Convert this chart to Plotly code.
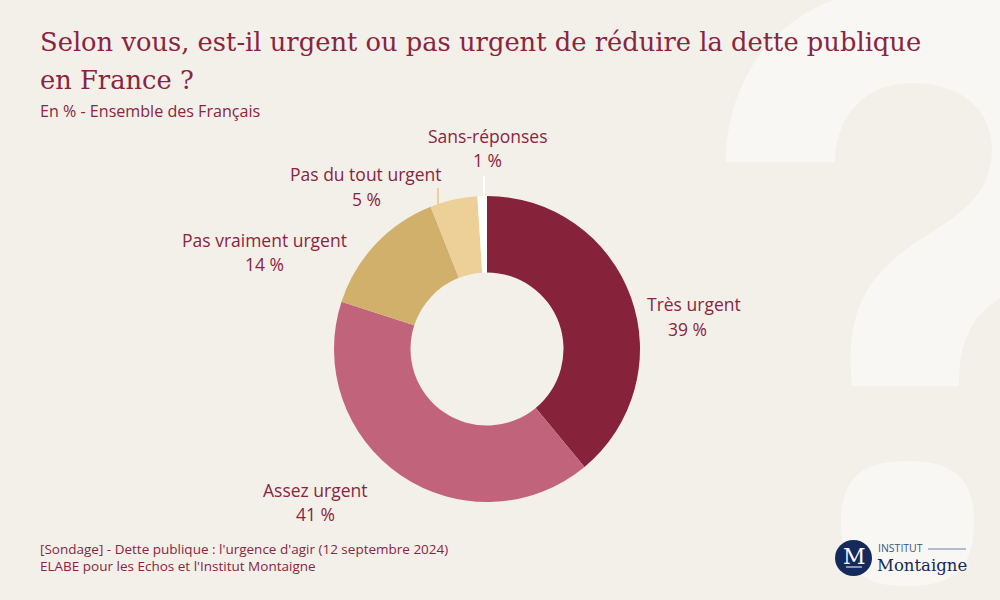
import plotly.graph_objects as go

W, H = 1000, 600

# survey results
categories = ["Très urgent", "Assez urgent", "Pas vraiment urgent", "Pas du tout urgent", "Sans-réponses"]
values = [39, 41, 14, 5, 1]
colors = ["#862239", "#c2637c", "#d1b06b", "#edd098", "#ffffff"]

title_lines = [
    "Selon vous, est-il urgent ou pas urgent de réduire la dette publique",
    "en France ?",
]
subtitle = "En % - Ensemble des Français"
source_lines = [
    "[Sondage] - Dette publique : l'urgence d'agir (12 septembre 2024)",
    "ELABE pour les Echos et l'Institut Montaigne",
]

BG = "#f3f0ea"
PALE = "#f8f7f3"
WINE = "#8a2540"
NAVY = "#14295c"
SANS = "Open Sans"
SERIF = "DejaVu Serif"


def px(x):
    return x / W


def py(y):
    return 1 - y / H


def path(cmds):
    # pixel coordinates to paper coordinates for svg paths
    out = []
    for c in cmds:
        out.append(c[0] + " ".join(f"{px(c[i]):.4f},{py(c[i + 1]):.4f}" for i in range(1, len(c), 2)))
    return " ".join(out) + " Z"


def text(x, y, s, size, color=WINE, family=SANS, anchor="left"):
    return dict(x=px(x), y=py(y), xref="paper", yref="paper", text=s, showarrow=False,
                xanchor=anchor, yanchor="middle", align=anchor, borderpad=0, borderwidth=0,
                font=dict(family=family, size=size, color=color))


fig = go.Figure(go.Pie(
    labels=categories,
    values=values,
    hole=0.5,
    sort=False,
    direction="clockwise",
    rotation=0,
    textinfo="none",
    marker=dict(colors=colors, line=dict(width=0)),
    domain=dict(x=[px(334), px(640)], y=[py(502), py(196)]),
    showlegend=False,
))

# big pale question mark behind everything
hook = path([
    ("M", 726, 162),
    ("C", 726, 90, 765, 25, 833, 0),
    ("L", 1000, 0),
    ("L", 1000, 298),
    ("C", 975, 315, 959, 335, 959, 386),
    ("L", 852, 386),
    ("C", 846, 320, 860, 280, 915, 243),
    ("C", 960, 215, 992, 195, 992, 149),
    ("C", 992, 105, 955, 83, 913, 83),
    ("C", 870, 83, 836, 110, 835, 162),
])
dot = path([
    ("M", 841, 523),
    ("C", 841, 475, 865, 461, 907, 461),
    ("C", 950, 461, 974, 475, 974, 523),
    ("C", 974, 572, 950, 586, 907, 586),
    ("C", 865, 586, 841, 572, 841, 523),
])

shapes = [
    dict(type="path", path=hook, xref="paper", yref="paper", fillcolor=PALE, line_width=0, layer="below"),
    dict(type="path", path=dot, xref="paper", yref="paper", fillcolor=PALE, line_width=0, layer="below"),
    # leader lines
    dict(type="line", xref="paper", yref="paper", x0=px(438), x1=px(438), y0=py(188), y1=py(205),
         line=dict(color="#edd098", width=2)),
    dict(type="line", xref="paper", yref="paper", x0=px(484), x1=px(484), y0=py(176), y1=py(197),
         line=dict(color="#ffffff", width=2)),
    # logo
    dict(type="circle", xref="paper", yref="paper", x0=px(835), x1=px(872), y0=py(576), y1=py(540),
         fillcolor=NAVY, line_width=0),
    dict(type="line", xref="paper", yref="paper", x0=px(846), x1=px(862), y0=py(567), y1=py(567),
         line=dict(color="#ffffff", width=1)),
    dict(type="line", xref="paper", yref="paper", x0=px(928), x1=px(966), y0=py(549), y1=py(549),
         line=dict(color="#9aa9c6", width=1.5)),
]

annotations = [
    text(40, 42, title_lines[0], 25.75, family=SERIF),
    text(40, 80, title_lines[1], 25.75, family=SERIF),
    text(40, 111, subtitle, 16.1),
    text(40, 548.5, source_lines[0], 13.5),
    text(40, 566, source_lines[1], 13.5),
    text(854, 556, "M", 22, color="#ffffff", family=SERIF, anchor="center"),
    text(878, 548, "INSTITUT", 10.5, color="#3b5488"),
    text(877, 565, "Montaigne", 16.5, color=NAVY, family=SERIF),
]

# label, percent value on the line under it
label_pos = [(694, 304.5, 687, 328.5), (315, 489.5, 315, 513.5), (264.5, 239.5, 264.5, 263.5),
             (366, 174, 366, 198.5), (487, 135.5, 487, 159.5)]
for name, val, (lx, ly, vx, vy) in zip(categories, values, label_pos):
    annotations.append(text(lx, ly, name, 17.5, anchor="center"))
    annotations.append(text(vx, vy, f"{val} %", 17.5, anchor="center"))

fig.update_layout(
    width=W,
    height=H,
    margin=dict(l=0, r=0, t=0, b=0),
    paper_bgcolor=BG,
    plot_bgcolor=BG,
    shapes=shapes,
    annotations=annotations,
)

fig.write_html("out.html", config=dict(displayModeBar=False), post_script="document.body.style.margin = '0';")
